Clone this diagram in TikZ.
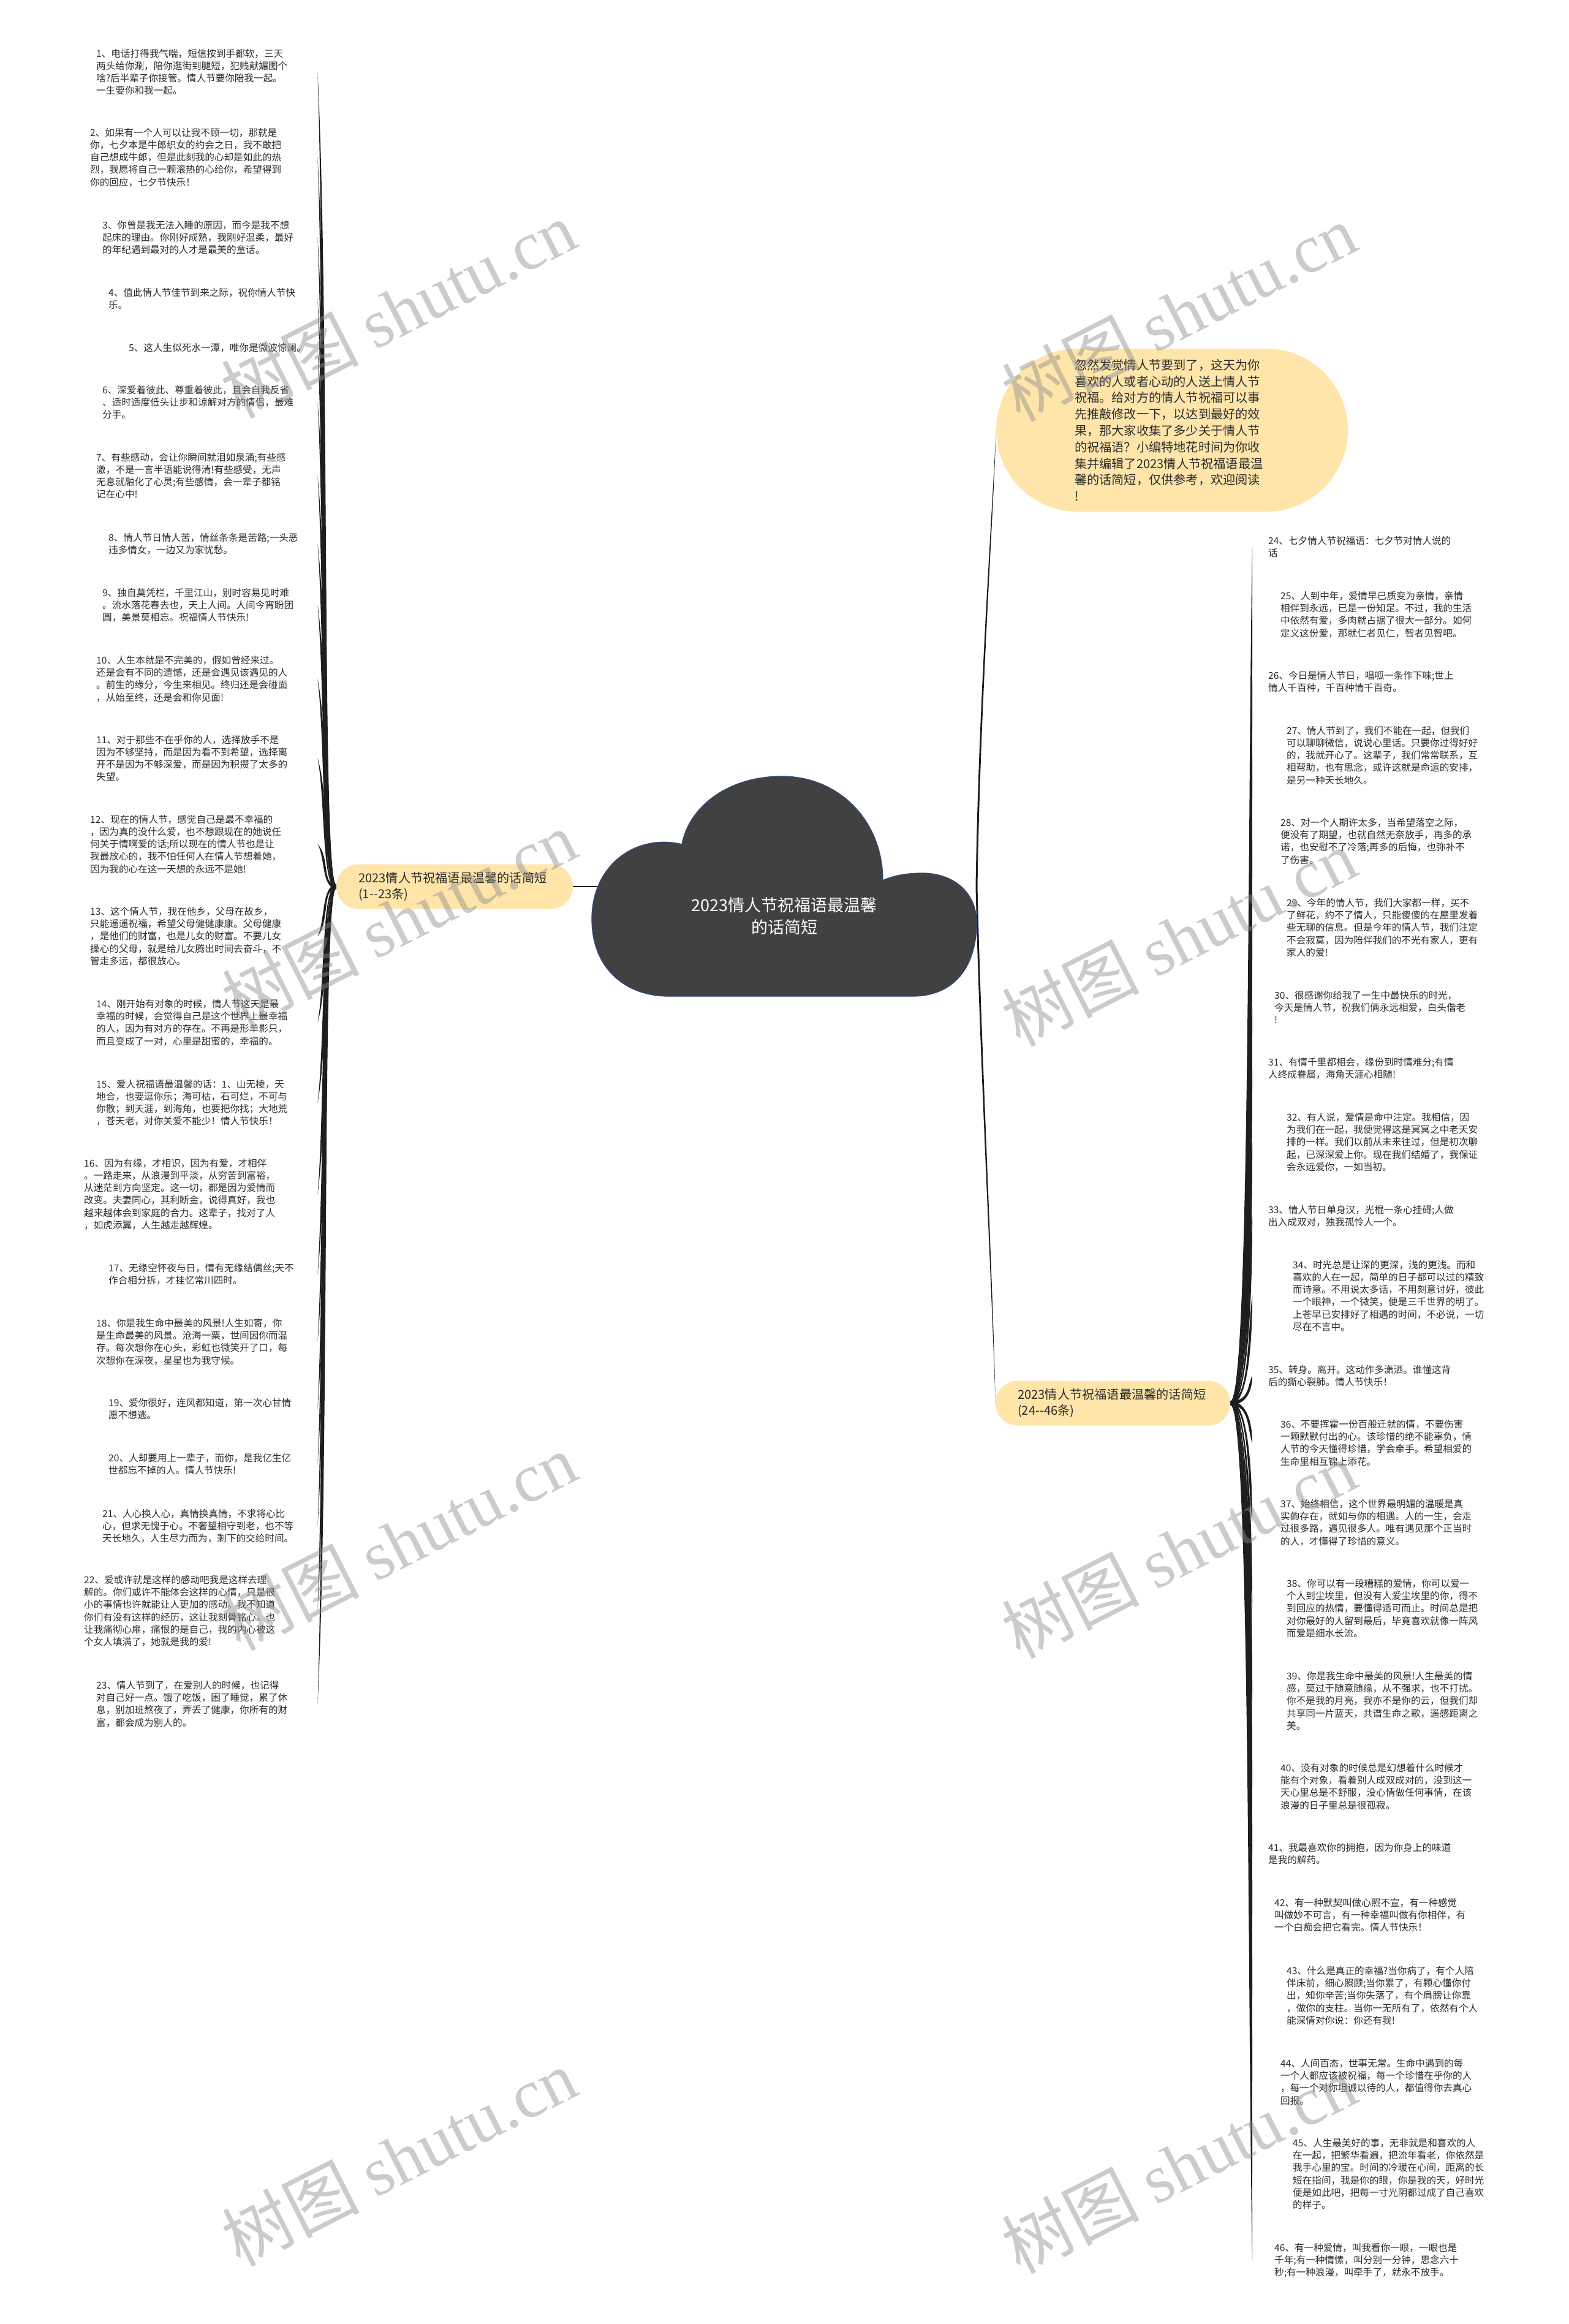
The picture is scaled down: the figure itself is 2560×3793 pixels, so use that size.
\documentclass[tikz,border=0pt]{standalone}
\usepackage{fontspec}
\setmainfont{Noto Sans CJK SC}
\newfontfamily\wmlat{Liberation Serif}
\usetikzlibrary{calc}
\pgfdeclarelayer{bglayer}
\pgfdeclarelayer{links}
\pgfdeclarelayer{toplayer}
\pgfsetlayers{bglayer,links,main,toplayer}
\definecolor{yel}{HTML}{FFE5AA}
\definecolor{cloudfill}{HTML}{414141}
\definecolor{cloudline}{HTML}{2E4A7A}
\definecolor{txt}{HTML}{2B2B2B}
\definecolor{lnk}{HTML}{1E1E1E}
\newcommand\itemfont{\fontsize{15.6pt}{20.2pt}\selectfont}
\newcommand\labfont{\fontsize{20.2pt}{26.8pt}\selectfont}
\newcommand\titlefont{\fontsize{27pt}{36pt}\selectfont}
\newcommand\wmfont{\fontsize{112pt}{120pt}\selectfont}
\newcommand\tconn[5]{%
  \fill[lnk] let \p1=#1, \p2=#2, \n1={((\y2)>(\y1))*2-1} in
   (\x1,{(\y1)+#5*3pt})
   .. controls ({(\x1)+#3},{(\y1)+#5*3pt}) and ({(\x1)+#4-(\n1)*4pt},{(\y2)+0.3*((\y1)-(\y2))}) ..
   (\x2,\y2)
   .. controls ({(\x1)+#4+(\n1)*4pt},{(\y2)+0.3*((\y1)-(\y2))}) and ({(\x1)+#3},{(\y1)-#5*3pt}) ..
   (\x1,{(\y1)-#5*3pt}) -- cycle;}
\begin{document}
\begin{tikzpicture}[x=1pt,y=-1pt,
  itemL/.style={anchor=north west, align=left, inner sep=0pt, font=\itemfont, text=txt},
  itemR/.style={anchor=north west, align=left, inner ysep=0pt, text width=380pt, font=\itemfont, text=txt},
  branch/.style={fill=yel, rounded corners=36pt, align=left, inner ysep=0pt, inner xsep=36pt, minimum height=73pt, font=\labfont, text=txt},
  wm/.style={font=\wmfont, text=black!45, text opacity=0.45, rotate=27, inner sep=0pt}
]
\useasboundingbox (0,0) rectangle (2560,3793);
\begin{pgfonlayer}{bglayer}
\fill[white] (0,0) rectangle (2560,3793);
\end{pgfonlayer}

% central cloud
\path[fill=cloudfill, draw=cloudline, line width=1.3pt] (1092,1626) -- (1489,1626)
 .. controls (1560,1626) and (1594,1575) .. (1594,1506)
 .. controls (1594,1455) and (1555,1425) .. (1505,1425)
 .. controls (1478,1425) and (1455,1430) .. (1441,1437)
 .. controls (1441,1340) and (1370,1267) .. (1276,1267)
 .. controls (1190,1267) and (1125,1315) .. (1113,1378)
 .. controls (1040,1360) and (966,1410) .. (966,1500)
 .. controls (966,1580) and (1020,1626) .. (1092,1626) -- cycle;
\node[font=\titlefont, text=white, align=center] (title) at (1280,1495) {2023情人节祝福语最温馨\\的话简短};
\coordinate (cL) at (975,1447);
\coordinate (cR) at (1594,1447);

% intro callout
\node[fill=yel, rounded corners=133pt, minimum width=574pt, minimum height=266pt, text width=318pt, inner xsep=128pt, inner ysep=0pt, align=left, font=\labfont, text=txt] (call) at (1913,702) {忽然发觉情人节要到了，这天为你\\喜欢的人或者心动的人送上情人节\\祝福。给对方的情人节祝福可以事\\先推敲修改一下，以达到最好的效\\果，那大家收集了多少关于情人节\\的祝福语？小编特地花时间为你收\\集并编辑了2023情人节祝福语最温\\馨的话简短，仅供参考，欢迎阅读\\!};

% branches
\node[branch, text width=314pt] (lab1) at (742,1447) {2023情人节祝福语最温馨的话简短\\(1-{}-23条)};
\node[branch, text width=311pt] (lab2) at (1816.5,2290) {2023情人节祝福语最温馨的话简短\\(24-{}-46条)};

% left items
\node[itemL, text width=361pt] (i1) at (157,80) {1、电话打得我气喘，短信按到手都软，三天\\两头给你涮，陪你逛街到腿短，犯贱献媚图个\\啥?后半辈子你接管。情人节要你陪我一起。\\一生要你和我一起。};
\node[itemL, text width=371pt] (i2) at (147,209) {2、如果有一个人可以让我不顾一切，那就是\\你，七夕本是牛郎织女的约会之日，我不敢把\\自己想成牛郎，但是此刻我的心却是如此的热\\烈，我愿将自己一颗滚热的心给你，希望得到\\你的回应，七夕节快乐！};
\node[itemL, text width=351pt] (i3) at (167,360) {3、你曾是我无法入睡的原因，而今是我不想\\起床的理由。你刚好成熟，我刚好温柔，最好\\的年纪遇到最对的人才是最美的童话。};
\node[itemL, text width=341pt] (i4) at (177,470) {4、值此情人节佳节到来之际，祝你情人节快\\乐。};
\node[itemL, text width=308pt] (i5) at (210,560) {5、这人生似死水一潭，唯你是微波惊澜。};
\node[itemL, text width=351pt] (i6) at (167,629) {6、深爱着彼此、尊重着彼此，且会自我反省\\、适时适度低头让步和谅解对方的情侣，最难\\分手。};
\node[itemL, text width=361pt] (i7) at (157,739) {7、有些感动，会让你瞬间就泪如泉涌;有些感\\激，不是一言半语能说得清!有些感受，无声\\无息就融化了心灵;有些感情，会一辈子都铭\\记在心中!};
\node[itemL, text width=341pt] (i8) at (177,870) {8、情人节日情人苦，情丝条条是苦路;一头恶\\违多情女，一边又为家忧愁。};
\node[itemL, text width=351pt] (i9) at (167,960) {9、独自莫凭栏，千里江山，别时容易见时难\\。流水落花春去也，天上人间。人间今宵盼团\\圆，美景莫相忘。祝福情人节快乐!};
\node[itemL, text width=361pt] (i10) at (157,1070) {10、人生本就是不完美的，假如曾经来过。\\还是会有不同的遗憾，还是会遇见该遇见的人\\。前生的缘分，今生来相见。终归还是会碰面\\，从始至终，还是会和你见面!};
\node[itemL, text width=361pt] (i11) at (157,1200) {11、对于那些不在乎你的人，选择放手不是\\因为不够坚持，而是因为看不到希望，选择离\\开不是因为不够深爱，而是因为积攒了太多的\\失望。};
\node[itemL, text width=371pt] (i12) at (147,1330) {12、现在的情人节，感觉自己是最不幸福的\\，因为真的没什么爱，也不想跟现在的她说任\\何关于情啊爱的话;所以现在的情人节也是让\\我最放心的，我不怕任何人在情人节想着她，\\因为我的心在这一天想的永远不是她!};
\node[itemL, text width=371pt] (i13) at (147,1480) {13、这个情人节，我在他乡，父母在故乡，\\只能遥遥祝福，希望父母健健康康。父母健康\\，是他们的财富，也是儿女的财富。不要儿女\\操心的父母，就是给儿女腾出时间去奋斗，不\\管走多远，都很放心。};
\node[itemL, text width=361pt] (i14) at (157,1631) {14、刚开始有对象的时候，情人节这天是最\\幸福的时候，会觉得自己是这个世界上最幸福\\的人，因为有对方的存在。不再是形单影只，\\而且变成了一对，心里是甜蜜的，幸福的。};
\node[itemL, text width=361pt] (i15) at (157,1762) {15、爱人祝福语最温馨的话：1、山无棱，天\\地合，也要逗你乐；海可枯，石可烂，不可与\\你散；到天涯，到海角，也要把你找；大地荒\\，苍天老，对你关爱不能少！情人节快乐！};
\node[itemL, text width=381pt] (i16) at (137,1891) {16、因为有缘，才相识，因为有爱，才相伴\\。一路走来，从浪漫到平淡，从穷苦到富裕，\\从迷茫到方向坚定。这一切，都是因为爱情而\\改变。夫妻同心，其利断金，说得真好，我也\\越来越体会到家庭的合力。这辈子，找对了人\\，如虎添翼，人生越走越辉煌。};
\node[itemL, text width=341pt] (i17) at (177,2062) {17、无缘空怀夜与日，情有无缘结偶丝;天不\\作合相分拆，才挂忆常川四时。};
\node[itemL, text width=361pt] (i18) at (157,2152) {18、你是我生命中最美的风景!人生如寄，你\\是生命最美的风景。沧海一粟，世间因你而温\\存。每次想你在心头，彩虹也微笑开了口，每\\次想你在深夜，星星也为我守候。};
\node[itemL, text width=341pt] (i19) at (177,2282) {19、爱你很好，连风都知道，第一次心甘情\\愿不想逃。};
\node[itemL, text width=341pt] (i20) at (177,2372) {20、人却要用上一辈子，而你，是我亿生亿\\世都忘不掉的人。情人节快乐!};
\node[itemL, text width=351pt] (i21) at (167,2463) {21、人心换人心，真情换真情，不求将心比\\心，但求无愧于心。不奢望相守到老，也不等\\天长地久，人生尽力而为，剩下的交给时间。};
\node[itemL, text width=381pt] (i22) at (137,2571) {22、爱或许就是这样的感动吧我是这样去理\\解的。你们或许不能体会这样的心情，只是很\\小的事情也许就能让人更加的感动。我不知道\\你们有没有这样的经历，这让我刻骨铭心。也\\让我痛彻心扉，痛恨的是自己，我的内心被这\\个女人填满了，她就是我的爱!};
\node[itemL, text width=361pt] (i23) at (157,2743) {23、情人节到了，在爱别人的时候，也记得\\对自己好一点。饿了吃饭，困了睡觉，累了休\\息，别加班熬夜了，弄丢了健康，你所有的财\\富，都会成为别人的。};

% right items
\node[itemR, inner xsep=26pt] (i24) at (2044,875) {24、七夕情人节祝福语：七夕节对情人说的\\话};
\node[itemR, inner xsep=46pt] (i25) at (2044,965) {25、人到中年，爱情早已质变为亲情，亲情\\相伴到永远，已是一份知足。不过，我的生活\\中依然有爱，多肉就占据了很大一部分。如何\\定义这份爱，那就仁者见仁，智者见智吧。};
\node[itemR, inner xsep=26pt] (i26) at (2044,1095) {26、今日是情人节日，唱呱一条作下味;世上\\情人千百种，千百种情千百奇。};
\node[itemR, inner xsep=56pt] (i27) at (2044,1185) {27、情人节到了，我们不能在一起，但我们\\可以聊聊微信，说说心里话。只要你过得好好\\的，我就开心了。这辈子，我们常常联系，互\\相帮助，也有思念，或许这就是命运的安排，\\是另一种天长地久。};
\node[itemR, inner xsep=46pt] (i28) at (2044,1335) {28、对一个人期许太多，当希望落空之际，\\便没有了期望，也就自然无奈放手，再多的承\\诺，也安慰不了冷落;再多的后悔，也弥补不\\了伤害。};
\node[itemR, inner xsep=56pt] (i29) at (2044,1466) {29、今年的情人节，我们大家都一样，买不\\了鲜花，约不了情人，只能傻傻的在屋里发着\\些无聊的信息。但是今年的情人节，我们注定\\不会寂寞，因为陪伴我们的不光有家人，更有\\家人的爱!};
\node[itemR, inner xsep=36pt] (i30) at (2044,1617) {30、很感谢你给我了一生中最快乐的时光，\\今天是情人节，祝我们俩永远相爱，白头偕老\\!};
\node[itemR, inner xsep=26pt] (i31) at (2044,1726) {31、有情千里都相会，缘份到时情难分;有情\\人终成眷属，海角天涯心相随!};
\node[itemR, inner xsep=56pt] (i32) at (2044,1816) {32、有人说，爱情是命中注定。我相信，因\\为我们在一起，我便觉得这是冥冥之中老天安\\排的一样。我们以前从未来往过，但是初次聊\\起，已深深爱上你。现在我们结婚了，我保证\\会永远爱你，一如当初。};
\node[itemR, inner xsep=26pt] (i33) at (2044,1967) {33、情人节日单身汉，光棍一条心挂碍;人做\\出入成双对，独我孤怜人一个。};
\node[itemR, inner xsep=66pt] (i34) at (2044,2057) {34、时光总是让深的更深，浅的更浅。而和\\喜欢的人在一起，简单的日子都可以过的精致\\而诗意。不用说太多话，不用刻意讨好，彼此\\一个眼神，一个微笑，便是三千世界的明了。\\上苍早已安排好了相遇的时间，不必说，一切\\尽在不言中。};
\node[itemR, inner xsep=26pt] (i35) at (2044,2228) {35、转身。离开。这动作多潇洒。谁懂这背\\后的撕心裂肺。情人节快乐！};
\node[itemR, inner xsep=46pt] (i36) at (2044,2317) {36、不要挥霍一份百般迁就的情，不要伤害\\一颗默默付出的心。该珍惜的绝不能辜负，情\\人节的今天懂得珍惜，学会牵手。希望相爱的\\生命里相互锦上添花。};
\node[itemR, inner xsep=46pt] (i37) at (2044,2447) {37、始终相信，这个世界最明媚的温暖是真\\实的存在，就如与你的相遇。人的一生，会走\\过很多路，遇见很多人。唯有遇见那个正当时\\的人，才懂得了珍惜的意义。};
\node[itemR, inner xsep=56pt] (i38) at (2044,2577) {38、你可以有一段糟糕的爱情，你可以爱一\\个人到尘埃里，但没有人爱尘埃里的你，得不\\到回应的热情，要懂得适可而止。时间总是把\\对你最好的人留到最后，毕竟喜欢就像一阵风\\而爱是细水长流。};
\node[itemR, inner xsep=56pt] (i39) at (2044,2728) {39、你是我生命中最美的风景!人生最美的情\\感，莫过于随意随缘，从不强求，也不打扰。\\你不是我的月亮，我亦不是你的云，但我们却\\共享同一片蓝天，共谱生命之歌，遥感距离之\\美。};
\node[itemR, inner xsep=46pt] (i40) at (2044,2878) {40、没有对象的时候总是幻想着什么时候才\\能有个对象，看着别人成双成对的，没到这一\\天心里总是不舒服，没心情做任何事情，在该\\浪漫的日子里总是很孤寂。};
\node[itemR, inner xsep=26pt] (i41) at (2044,3008) {41、我最喜欢你的拥抱，因为你身上的味道\\是我的解药。};
\node[itemR, inner xsep=36pt] (i42) at (2044,3098) {42、有一种默契叫做心照不宣，有一种感觉\\叫做妙不可言，有一种幸福叫做有你相伴，有\\一个白痴会把它看完。情人节快乐！};
\node[itemR, inner xsep=56pt] (i43) at (2044,3209) {43、什么是真正的幸福?当你病了，有个人陪\\伴床前，细心照顾;当你累了，有颗心懂你付\\出，知你辛苦;当你失落了，有个肩膀让你靠\\，做你的支柱。当你一无所有了，依然有个人\\能深情对你说：你还有我!};
\node[itemR, inner xsep=46pt] (i44) at (2044,3360) {44、人间百态，世事无常。生命中遇到的每\\一个人都应该被祝福，每一个珍惜在乎你的人\\，每一个对你坦诚以待的人，都值得你去真心\\回报。};
\node[itemR, inner xsep=66pt] (i45) at (2044,3490) {45、人生最美好的事，无非就是和喜欢的人\\在一起，把繁华看遍，把流年看老，你依然是\\我手心里的宝。时间的冷暖在心间，距离的长\\短在指间，我是你的眼，你是我的天，好时光\\便是如此吧，把每一寸光阴都过成了自己喜欢\\的样子。};
\node[itemR, inner xsep=36pt] (i46) at (2044,3661) {46、有一种爱情，叫我看你一眼，一眼也是\\千年;有一种情愫，叫分别一分钟，思念六十\\秒;有一种浪漫，叫牵手了，就永不放手。};

% connectors
\begin{pgfonlayer}{links}
\draw[lnk, line width=2.6pt] (cL) -- (lab1.east);
\fill[lnk] ($(cR)+(1.5,0)$) .. controls (1601,1700) and (1621.2,2100) .. (lab2.west)
  .. controls (1618.8,2100) and (1598,1700) .. ($(cR)+(-1.5,0)$) -- cycle;
\fill[lnk] ($(cR)+(-1.5,0)$) .. controls (1597,1150) and (1618.8,850) .. (call.west)
  .. controls (1621.2,850) and (1600,1150) .. ($(cR)+(1.5,0)$) -- cycle;
\foreach \k in {1,...,23} {\tconn{(lab1.west)}{(i\k.east)}{(-24pt)}{(-14pt)}{(-1)}}
\foreach \k in {24,...,46} {\tconn{(lab2.east)}{(i\k.west)}{(32pt)}{(32pt)}{(1)}}
\end{pgfonlayer}

% watermarks
\begin{pgfonlayer}{toplayer}
\foreach \wx/\wy [count=\c] in {650/505, 1924/510, 651/1500, 1924/1530, 651/2516, 1924/2529, 651/3521, 1924/3533}
  \node[wm] (wm\c) at (\wx,\wy) {树图 {\wmlat shutu.cn}};
\end{pgfonlayer}
\end{tikzpicture}
\end{document}
